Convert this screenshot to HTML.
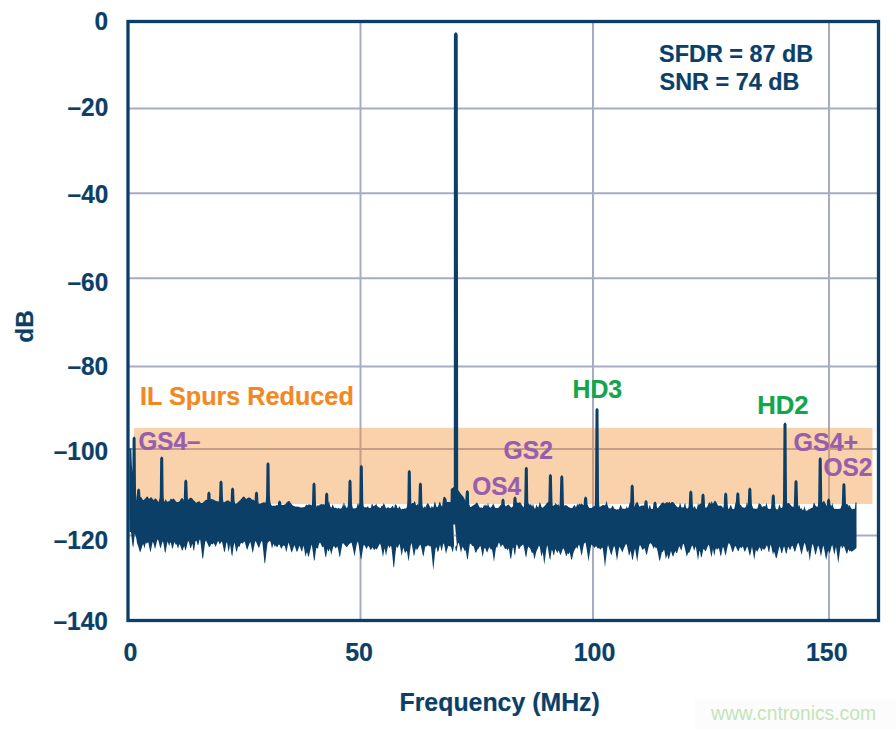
<!DOCTYPE html>
<html><head><meta charset="utf-8">
<style>
html,body{margin:0;padding:0;background:#fff;}
body{width:896px;height:729px;overflow:hidden;position:relative;}
svg{position:absolute;left:0;top:0;}
text{font-family:"Liberation Sans",sans-serif;font-weight:bold;stroke:currentColor;stroke-width:0.2px;}
text.wm{font-weight:normal;stroke:none;}
</style></head><body>
<svg width="896" height="729" viewBox="0 0 896 729">
<rect x="695" y="699" width="201" height="30" fill="#fcfcfc"/>
<g stroke="#a7abc3" stroke-width="2" fill="none">
<line x1="128" y1="108.5" x2="878" y2="108.5"/>
<line x1="128" y1="193.2" x2="878" y2="193.2"/>
<line x1="128" y1="278.2" x2="878" y2="278.2"/>
<line x1="128" y1="366.5" x2="878" y2="366.5"/>
<line x1="128" y1="449" x2="878" y2="449"/>
<line x1="128" y1="535.5" x2="878" y2="535.5"/>
<line x1="360.5" y1="21.5" x2="360.5" y2="620.5"/>
<line x1="593" y1="21.5" x2="593" y2="620.5"/>
<line x1="829" y1="21.5" x2="829" y2="620.5"/>
</g>
<rect x="134" y="427.8" width="738.5" height="76.2" fill="#f08c2a" fill-opacity="0.40"/>
<g fill="#0b3f68">
<path d="M129.50,448.6 130.25,504.2 131.00,503.5 131.75,502.8 132.50,503.4 133.25,502.9 134.00,502.7 134.75,502.3 135.50,502.5 136.25,501.4 137.00,500.5 137.75,499.3 138.50,498.1 139.25,496.7 140.00,496.9 140.75,496.8 141.50,497.5 142.25,498.8 143.00,500.0 143.75,500.0 144.50,499.3 145.25,498.4 146.00,497.4 146.75,496.8 147.50,496.5 148.25,497.5 149.00,499.0 149.75,498.3 150.50,497.5 151.25,497.3 152.00,497.8 152.75,498.9 153.50,500.3 154.25,499.3 155.00,498.6 155.75,498.6 156.50,499.2 157.25,500.2 158.00,501.4 158.75,501.8 159.50,498.9 160.25,497.7 161.00,499.2 161.75,501.0 162.50,501.0 163.25,501.3 164.00,501.6 164.75,501.5 165.50,499.0 166.25,500.2 167.00,501.6 167.75,501.8 168.50,501.2 169.25,501.3 170.00,500.0 170.75,498.4 171.50,498.9 172.25,499.6 173.00,498.7 173.75,498.6 174.50,499.4 175.25,500.6 176.00,501.5 176.75,502.1 177.50,502.0 178.25,502.0 179.00,501.8 179.75,500.9 180.50,499.6 181.25,498.4 182.00,497.9 182.75,498.5 183.50,499.8 184.25,501.3 185.00,502.4 185.75,502.4 186.50,501.7 187.25,500.9 188.00,500.0 188.75,499.0 189.50,498.2 190.25,497.8 191.00,497.7 191.75,498.1 192.50,498.8 193.25,499.7 194.00,500.7 194.75,501.1 195.50,502.3 196.25,502.8 197.00,502.2 197.75,501.7 198.50,501.5 199.25,501.3 200.00,501.8 200.75,502.9 201.50,503.1 202.25,503.0 203.00,502.5 203.75,501.7 204.50,500.9 205.25,500.2 206.00,499.8 206.75,499.9 207.50,500.3 208.25,500.6 209.00,500.2 209.75,499.7 210.50,499.3 211.25,499.1 212.00,499.2 212.75,499.3 213.50,499.6 214.25,500.0 215.00,500.4 215.75,500.8 216.50,501.1 217.25,501.3 218.00,501.4 218.75,501.7 219.50,501.9 220.25,501.6 221.00,502.2 221.75,502.3 222.50,502.4 223.25,502.4 224.00,502.3 224.75,502.1 225.50,501.6 226.25,501.1 227.00,500.6 227.75,500.4 228.50,500.6 229.25,501.1 230.00,501.8 230.75,502.5 231.50,502.2 232.25,501.9 233.00,501.7 233.75,502.9 234.50,504.0 235.25,503.9 236.00,503.6 236.75,503.2 237.50,502.7 238.25,501.8 239.00,501.3 239.75,500.5 240.50,499.8 241.25,499.1 242.00,497.9 242.75,497.0 243.50,496.6 244.25,496.8 245.00,497.5 245.75,498.5 246.50,499.1 247.25,498.3 248.00,497.7 248.75,497.4 249.50,497.4 250.25,497.8 251.00,498.5 251.75,499.4 252.50,499.7 253.25,499.5 254.00,500.3 254.75,500.8 255.50,501.8 256.25,503.3 257.00,503.3 257.75,503.7 258.50,503.5 259.25,503.7 260.00,503.6 260.75,503.4 261.50,503.1 262.25,502.7 263.00,502.5 263.75,502.3 264.50,502.4 265.25,502.4 266.00,503.1 266.75,503.6 267.50,504.1 268.25,504.7 269.00,503.6 269.75,503.5 270.50,503.6 271.25,505.0 272.00,505.7 272.75,505.8 273.50,505.7 274.25,505.8 275.00,505.8 275.75,505.4 276.50,505.1 277.25,505.0 278.00,505.8 278.75,504.9 279.50,505.1 280.25,504.9 281.00,505.2 281.75,505.1 282.50,505.0 283.25,504.9 284.00,504.7 284.75,504.4 285.50,503.9 286.25,503.1 287.00,502.2 287.75,501.4 288.50,501.0 289.25,501.1 290.00,501.8 290.75,502.9 291.50,503.9 292.25,504.9 293.00,505.4 293.75,505.9 294.50,506.2 295.25,506.4 296.00,506.7 296.75,506.4 297.50,506.8 298.25,506.5 299.00,506.9 299.75,507.2 300.50,507.3 301.25,507.4 302.00,507.4 302.75,507.2 303.50,507.3 304.25,507.1 305.00,506.7 305.75,505.3 306.50,504.4 307.25,505.3 308.00,504.8 308.75,504.5 309.50,504.4 310.25,504.6 311.00,505.0 311.75,505.5 312.50,506.1 313.25,506.6 314.00,504.4 314.75,506.2 315.50,507.5 316.25,507.4 317.00,506.2 317.75,504.7 318.50,505.8 319.25,505.3 320.00,504.2 320.75,504.5 321.50,504.1 322.25,504.2 323.00,504.5 323.75,504.0 324.50,504.7 325.25,503.9 326.00,504.9 326.75,505.4 327.50,505.9 328.25,502.7 329.00,501.1 329.75,504.4 330.50,507.0 331.25,507.7 332.00,506.3 332.75,504.2 333.50,506.2 334.25,507.8 335.00,507.9 335.75,507.6 336.50,507.9 337.25,508.7 338.00,508.0 338.75,508.1 339.50,508.5 340.25,508.6 341.00,508.7 341.75,507.8 342.50,506.1 343.25,502.2 344.00,506.8 344.75,502.8 345.50,506.0 346.25,507.8 347.00,507.7 347.75,507.7 348.50,506.3 349.25,505.5 350.00,502.3 350.75,505.8 351.50,507.6 352.25,508.7 353.00,508.5 353.75,508.3 354.50,508.5 355.25,508.3 356.00,508.1 356.75,507.6 357.50,504.0 358.25,502.9 359.00,506.0 359.75,503.7 360.50,503.7 361.25,503.6 362.00,504.2 362.75,505.8 363.50,507.0 364.25,506.8 365.00,507.8 365.75,507.1 366.50,507.4 367.25,506.8 368.00,506.0 368.75,507.9 369.50,508.0 370.25,507.9 371.00,507.5 371.75,503.8 372.50,504.2 373.25,506.3 374.00,505.8 374.75,505.5 375.50,504.9 376.25,503.5 377.00,505.9 377.75,506.4 378.50,507.0 379.25,507.6 380.00,508.0 380.75,507.8 381.50,506.1 382.25,506.2 383.00,504.9 383.75,503.1 384.50,504.6 385.25,506.5 386.00,508.3 386.75,508.2 387.50,507.4 388.25,507.3 389.00,507.8 389.75,508.3 390.50,507.9 391.25,507.6 392.00,506.3 392.75,505.8 393.50,507.5 394.25,508.1 395.00,503.9 395.75,504.8 396.50,505.0 397.25,507.5 398.00,508.6 398.75,507.5 399.50,506.1 400.25,507.8 401.00,509.0 401.75,509.6 402.50,508.6 403.25,509.0 404.00,508.7 404.75,508.4 405.50,508.6 406.25,508.3 407.00,508.0 407.75,507.5 408.50,506.9 409.25,506.2 410.00,505.3 410.75,504.5 411.50,503.7 412.25,503.1 413.00,502.9 413.75,503.0 414.50,501.1 415.25,502.2 416.00,505.0 416.75,505.3 417.50,503.6 418.25,505.8 419.00,505.1 419.75,504.9 420.50,505.5 421.25,506.6 422.00,507.7 422.75,508.7 423.50,507.8 424.25,505.9 425.00,507.7 425.75,506.8 426.50,505.0 427.25,503.5 428.00,503.2 428.75,504.2 429.50,505.9 430.25,507.4 431.00,508.3 431.75,505.8 432.50,507.0 433.25,507.7 434.00,504.8 434.75,501.3 435.50,503.3 436.25,506.0 437.00,507.6 437.75,506.8 438.50,505.3 439.25,502.6 440.00,501.4 440.75,503.9 441.50,506.1 442.25,506.8 443.00,506.6 443.75,506.4 444.50,506.0 445.25,505.5 446.00,503.7 446.75,503.0 447.50,504.0 448.25,503.7 449.00,503.7 449.75,504.1 450.50,504.6 451.25,505.0 452.00,503.8 452.75,503.1 453.50,503.2 454.25,504.0 455.00,505.2 455.75,506.5 456.50,507.6 457.25,508.3 458.00,508.6 458.75,508.7 459.50,508.6 460.25,508.4 461.00,507.8 461.75,506.6 462.50,504.7 463.25,502.8 464.00,501.9 464.75,502.6 465.50,504.4 466.25,506.1 467.00,507.1 467.75,507.3 468.50,505.8 469.25,504.7 470.00,507.0 470.75,507.0 471.50,506.6 472.25,506.0 473.00,505.4 473.75,504.9 474.50,504.5 475.25,504.3 476.00,503.0 476.75,502.4 477.50,502.9 478.25,504.4 479.00,506.2 479.75,507.6 480.50,507.8 481.25,506.9 482.00,508.1 482.75,508.0 483.50,505.7 484.25,504.7 485.00,506.6 485.75,504.1 486.50,505.5 487.25,506.0 488.00,502.6 488.75,505.8 489.50,507.1 490.25,507.8 491.00,507.3 491.75,506.5 492.50,504.9 493.25,503.4 494.00,505.3 494.75,507.0 495.50,508.0 496.25,508.1 497.00,508.1 497.75,508.0 498.50,507.6 499.25,506.8 500.00,505.8 500.75,505.0 501.50,504.6 502.25,505.0 503.00,506.1 503.75,505.5 504.50,504.4 505.25,505.5 506.00,506.4 506.75,505.5 507.50,504.9 508.25,504.6 509.00,504.8 509.75,506.1 510.50,506.9 511.25,507.5 512.00,507.4 512.75,506.5 513.50,505.0 514.25,504.1 515.00,503.4 515.75,502.7 516.50,502.3 517.25,502.5 518.00,503.0 518.75,502.8 519.50,502.3 520.25,502.6 521.00,503.6 521.75,504.9 522.50,506.1 523.25,507.1 524.00,507.7 524.75,507.9 525.50,507.5 526.25,506.5 527.00,505.2 527.75,503.4 528.50,503.5 529.25,504.1 530.00,505.5 530.75,503.4 531.50,505.3 532.25,506.6 533.00,503.6 533.75,506.4 534.50,508.6 535.25,508.6 536.00,506.3 536.75,504.2 537.50,507.1 538.25,507.6 539.00,505.1 539.75,502.0 540.50,503.4 541.25,506.1 542.00,507.7 542.75,507.5 543.50,507.0 544.25,506.3 545.00,505.4 545.75,504.4 546.50,503.4 547.25,502.6 548.00,502.2 548.75,502.2 549.50,502.6 550.25,503.5 551.00,504.5 551.75,505.6 552.50,506.4 553.25,505.8 554.00,505.2 554.75,504.7 555.50,502.7 556.25,504.3 557.00,504.6 557.75,505.0 558.50,504.0 559.25,506.2 560.00,506.8 560.75,506.9 561.50,504.0 562.25,503.0 563.00,506.0 563.75,506.2 564.50,505.6 565.25,505.3 566.00,505.2 566.75,505.6 567.50,506.1 568.25,506.7 569.00,507.2 569.75,507.6 570.50,507.9 571.25,508.1 572.00,508.2 572.75,507.6 573.50,506.1 574.25,505.2 575.00,505.2 575.75,507.5 576.50,506.3 577.25,503.2 578.00,505.7 578.75,504.0 579.50,503.6 580.25,504.8 581.00,503.7 581.75,503.5 582.50,504.2 583.25,504.9 584.00,504.9 584.75,505.4 585.50,506.1 586.25,503.6 587.00,504.9 587.75,505.0 588.50,506.7 589.25,508.1 590.00,508.1 590.75,508.0 591.50,508.1 592.25,507.6 593.00,507.0 593.75,506.3 594.50,506.0 595.25,506.0 596.00,506.5 596.75,507.0 597.50,507.5 598.25,507.5 599.00,507.3 599.75,507.0 600.50,506.5 601.25,505.9 602.00,505.4 602.75,505.0 603.50,505.0 604.25,505.2 605.00,505.5 605.75,503.8 606.50,500.7 607.25,503.7 608.00,506.6 608.75,508.3 609.50,508.2 610.25,508.6 611.00,508.2 611.75,507.0 612.50,505.4 613.25,506.6 614.00,508.1 614.75,508.9 615.50,509.1 616.25,509.7 617.00,509.3 617.75,509.3 618.50,509.5 619.25,508.4 620.00,506.3 620.75,504.5 621.50,506.8 622.25,508.6 623.00,509.1 623.75,508.4 624.50,508.8 625.25,508.9 626.00,508.2 626.75,505.9 627.50,508.3 628.25,507.9 629.00,505.6 629.75,502.7 630.50,502.5 631.25,500.8 632.00,502.7 632.75,503.0 633.50,505.5 634.25,507.2 635.00,505.1 635.75,502.9 636.50,502.6 637.25,501.8 638.00,502.9 638.75,505.0 639.50,506.7 640.25,506.2 641.00,505.7 641.75,505.4 642.50,505.5 643.25,506.1 644.00,504.5 644.75,507.6 645.50,508.2 646.25,508.6 647.00,508.7 647.75,509.0 648.50,509.0 649.25,506.2 650.00,504.5 650.75,507.9 651.50,508.9 652.25,509.1 653.00,509.5 653.75,508.7 654.50,508.4 655.25,506.9 656.00,506.8 656.75,508.1 657.50,508.2 658.25,507.7 659.00,506.4 659.75,505.8 660.50,504.7 661.25,503.6 662.00,502.7 662.75,502.4 663.50,502.6 664.25,503.3 665.00,503.4 665.75,502.7 666.50,502.3 667.25,502.2 668.00,502.4 668.75,502.7 669.50,501.4 670.25,503.5 671.00,502.6 671.75,502.0 672.50,501.9 673.25,502.3 674.00,503.0 674.75,504.0 675.50,505.1 676.25,506.0 677.00,506.7 677.75,507.2 678.50,507.5 679.25,506.0 680.00,502.8 680.75,504.8 681.50,507.4 682.25,507.5 683.00,507.3 683.75,507.4 684.50,503.9 685.25,503.1 686.00,507.2 686.75,508.4 687.50,508.5 688.25,508.0 689.00,509.2 689.75,509.4 690.50,509.3 691.25,509.5 692.00,509.6 692.75,508.9 693.50,507.9 694.25,506.3 695.00,506.6 695.75,508.4 696.50,509.5 697.25,507.3 698.00,503.0 698.75,505.5 699.50,503.9 700.25,503.3 701.00,504.0 701.75,505.4 702.50,506.9 703.25,507.8 704.00,508.2 704.75,508.2 705.50,507.8 706.25,507.6 707.00,506.9 707.75,505.5 708.50,503.6 709.25,502.3 710.00,502.5 710.75,504.0 711.50,501.0 712.25,502.4 713.00,503.8 713.75,502.3 714.50,501.1 715.25,500.8 716.00,501.6 716.75,503.3 717.50,504.4 718.25,505.8 719.00,505.7 719.75,505.6 720.50,505.5 721.25,505.7 722.00,506.4 722.75,507.4 723.50,508.3 724.25,504.6 725.00,505.3 725.75,509.8 726.50,508.5 727.25,508.7 728.00,510.0 728.75,509.3 729.50,507.7 730.25,505.7 731.00,505.0 731.75,507.3 732.50,508.9 733.25,508.9 734.00,509.2 734.75,506.7 735.50,501.5 736.25,507.1 737.00,507.9 737.75,507.1 738.50,504.9 739.25,503.0 740.00,505.4 740.75,504.2 741.50,506.2 742.25,507.1 743.00,507.5 743.75,507.6 744.50,507.8 745.25,507.6 746.00,506.5 746.75,502.3 747.50,503.8 748.25,507.8 749.00,508.4 749.75,507.0 750.50,504.5 751.25,506.0 752.00,505.2 752.75,507.3 753.50,508.7 754.25,508.3 755.00,509.0 755.75,508.6 756.50,508.7 757.25,508.7 758.00,506.6 758.75,503.2 759.50,503.4 760.25,504.0 761.00,504.4 761.75,506.5 762.50,507.1 763.25,506.4 764.00,506.0 764.75,506.3 765.50,506.4 766.25,502.8 767.00,504.8 767.75,508.2 768.50,508.7 769.25,509.1 770.00,509.0 770.75,509.0 771.50,509.5 772.25,508.1 773.00,505.3 773.75,503.5 774.50,506.6 775.25,509.1 776.00,509.5 776.75,509.3 777.50,509.6 778.25,508.4 779.00,505.2 779.75,504.6 780.50,507.4 781.25,507.9 782.00,508.0 782.75,507.6 783.50,507.1 784.25,506.6 785.00,504.5 785.75,501.8 786.50,503.5 787.25,503.5 788.00,502.9 788.75,502.9 789.50,503.5 790.25,504.4 791.00,505.4 791.75,506.2 792.50,506.8 793.25,507.1 794.00,507.6 794.75,507.9 795.50,508.7 796.25,508.2 797.00,507.6 797.75,506.4 798.50,506.7 799.25,504.6 800.00,507.2 800.75,509.2 801.50,507.9 802.25,509.6 803.00,510.3 803.75,508.9 804.50,506.1 805.25,508.9 806.00,511.0 806.75,510.5 807.50,510.4 808.25,509.6 809.00,509.3 809.75,509.2 810.50,508.6 811.25,508.1 812.00,508.1 812.75,507.6 813.50,503.5 814.25,502.7 815.00,504.4 815.75,506.0 816.50,506.5 817.25,506.9 818.00,506.7 818.75,506.6 819.50,506.2 820.25,505.6 821.00,504.6 821.75,502.7 822.50,502.2 823.25,501.4 824.00,500.7 824.75,502.1 825.50,503.4 826.25,505.0 827.00,506.4 827.75,506.1 828.50,505.1 829.25,504.4 830.00,504.3 830.75,505.1 831.50,506.2 832.25,502.6 833.00,506.2 833.75,508.0 834.50,508.9 835.25,509.0 836.00,508.6 836.75,509.0 837.50,509.0 838.25,509.1 839.00,508.7 839.75,508.7 840.50,508.4 841.25,506.5 842.00,505.1 842.75,504.6 843.50,506.9 844.25,508.6 845.00,507.1 845.75,504.4 846.50,503.7 847.25,504.7 848.00,503.9 848.75,506.8 849.50,504.7 850.25,506.3 851.00,508.1 851.75,508.9 852.50,509.3 853.25,508.9 854.00,508.6 854.75,509.2 855.50,502.5 856.25,502.5 856.50,502.5 856.50,547.0 856.25,548.2 855.50,548.8 854.75,549.4 854.00,550.0 853.25,550.6 852.50,551.2 851.75,551.8 851.00,551.2 850.25,550.4 849.50,551.8 848.75,549.2 848.00,550.6 847.25,553.5 846.50,553.4 845.75,551.2 845.00,548.9 844.25,546.7 843.50,545.9 842.75,547.8 842.00,548.4 841.25,545.6 840.50,547.0 839.75,552.2 839.00,558.0 838.25,563.4 837.50,557.5 836.75,551.9 836.00,546.8 835.25,550.6 834.50,554.7 833.75,552.1 833.00,548.2 832.25,544.9 831.50,546.5 830.75,549.4 830.00,552.6 829.25,553.1 828.50,550.4 827.75,552.1 827.00,555.9 826.25,559.9 825.50,556.8 824.75,552.3 824.00,548.3 823.25,545.5 822.50,548.8 821.75,552.6 821.00,556.7 820.25,553.2 819.50,549.8 818.75,546.7 818.00,545.6 817.25,548.4 816.50,551.6 815.75,555.0 815.00,553.5 814.25,549.8 813.50,546.5 812.75,543.8 812.00,545.6 811.25,550.3 810.50,555.6 809.75,561.0 809.00,555.2 808.25,549.7 807.50,552.4 806.75,551.3 806.00,547.6 805.25,544.5 804.50,542.8 803.75,545.5 803.00,548.5 802.25,551.7 801.50,555.0 800.75,551.7 800.00,548.5 799.25,545.6 798.50,543.0 797.75,543.6 797.00,545.5 796.25,548.0 795.50,550.8 794.75,552.1 794.00,549.8 793.25,547.7 792.50,545.7 791.75,546.1 791.00,548.0 790.25,550.0 789.50,549.5 788.75,546.9 788.00,547.2 787.25,550.4 786.50,553.9 785.75,552.9 785.00,549.6 784.25,546.5 783.50,547.4 782.75,550.4 782.00,553.6 781.25,552.8 780.50,549.3 779.75,546.2 779.00,548.3 778.25,551.3 777.50,554.5 776.75,557.8 776.00,558.5 775.25,555.4 774.50,552.4 773.75,552.0 773.00,555.1 772.25,551.2 771.50,547.7 770.75,544.6 770.00,547.2 769.25,551.9 768.50,551.7 767.75,547.7 767.00,545.3 766.25,546.6 765.50,547.9 764.75,549.1 764.00,550.3 763.25,548.9 762.50,548.2 761.75,551.0 761.00,550.8 760.25,547.9 759.50,547.2 758.75,548.8 758.00,550.3 757.25,551.9 756.50,550.4 755.75,550.3 755.00,554.9 754.25,560.0 753.50,555.4 752.75,550.7 752.00,546.9 751.25,550.3 750.50,553.9 749.75,555.8 749.00,552.8 748.25,549.8 747.50,546.8 746.75,547.6 746.00,549.3 745.25,551.2 744.50,551.8 743.75,549.2 743.00,546.9 742.25,546.4 741.50,548.5 740.75,547.5 740.00,547.2 739.25,549.2 738.50,551.2 737.75,550.7 737.00,549.0 736.25,547.4 735.50,546.1 734.75,546.7 734.00,549.1 733.25,551.6 732.50,552.2 731.75,549.8 731.00,547.4 730.25,545.1 729.50,543.8 728.75,543.0 728.00,545.1 727.25,548.1 726.50,551.6 725.75,555.7 725.00,553.8 724.25,550.5 723.50,547.6 722.75,547.3 722.00,551.1 721.25,555.0 720.50,556.3 719.75,552.3 719.00,548.4 718.25,548.3 717.50,549.3 716.75,549.4 716.00,548.1 715.25,550.5 714.50,555.8 713.75,553.6 713.00,548.9 712.25,553.0 711.50,557.4 710.75,554.0 710.00,549.7 709.25,546.1 708.50,544.8 707.75,546.5 707.00,548.3 706.25,550.1 705.50,551.5 704.75,550.4 704.00,549.1 703.25,549.6 702.50,553.2 701.75,557.1 701.00,557.4 700.25,552.4 699.50,550.4 698.75,555.2 698.00,560.6 697.25,555.5 696.50,550.8 695.75,546.6 695.00,547.9 694.25,551.0 693.50,548.8 692.75,546.2 692.00,545.6 691.25,547.5 690.50,549.6 689.75,551.7 689.00,553.2 688.25,552.3 687.50,554.8 686.75,556.8 686.00,553.3 685.25,549.9 684.50,546.7 683.75,543.9 683.00,544.2 682.25,547.1 681.50,550.6 680.75,549.6 680.00,547.4 679.25,546.3 678.50,548.6 677.75,550.9 677.00,553.1 676.25,553.1 675.50,551.0 674.75,552.3 674.00,554.3 673.25,556.5 672.50,556.0 671.75,553.5 671.00,551.1 670.25,553.6 669.50,556.6 668.75,559.6 668.00,557.6 667.25,554.3 666.50,557.1 665.75,559.0 665.00,554.2 664.25,549.9 663.50,550.2 662.75,552.3 662.00,551.8 661.25,555.1 660.50,558.3 659.75,561.3 659.00,558.9 658.25,554.8 657.50,551.0 656.75,547.5 656.00,548.8 655.25,547.3 654.50,546.6 653.75,549.0 653.00,547.2 652.25,545.5 651.50,544.0 650.75,543.2 650.00,543.5 649.25,544.6 648.50,547.4 647.75,550.7 647.00,554.3 646.25,554.8 645.50,551.6 644.75,548.5 644.00,548.4 643.25,549.3 642.50,550.0 641.75,548.4 641.00,546.8 640.25,545.3 639.50,545.7 638.75,550.3 638.00,555.7 637.25,561.7 636.50,557.4 635.75,552.7 635.00,548.4 634.25,551.4 633.50,555.8 632.75,560.3 632.00,558.9 631.25,553.9 630.50,550.7 629.75,554.3 629.00,556.0 628.25,551.8 627.50,548.1 626.75,544.7 626.00,544.0 625.25,545.4 624.50,547.1 623.75,548.8 623.00,550.8 622.25,552.4 621.50,550.5 620.75,548.9 620.00,547.5 619.25,546.9 618.50,551.3 617.75,555.9 617.00,560.7 616.25,555.9 615.50,551.2 614.75,546.9 614.00,546.3 613.25,548.6 612.50,551.3 611.75,554.4 611.00,554.9 610.25,552.1 609.50,549.6 608.75,547.2 608.00,545.0 607.25,548.6 606.50,554.4 605.75,560.7 605.00,567.4 604.25,560.4 603.50,553.9 602.75,548.2 602.00,547.5 601.25,548.6 600.50,549.7 599.75,549.0 599.00,547.8 598.25,548.5 597.50,548.6 596.75,546.9 596.00,545.9 595.25,547.1 594.50,548.1 593.75,547.0 593.00,546.1 592.25,545.3 591.50,544.6 590.75,547.3 590.00,551.8 589.25,556.6 588.50,561.6 587.75,556.1 587.00,551.0 586.25,546.4 585.50,542.6 584.75,542.9 584.00,543.8 583.25,547.4 582.50,551.6 581.75,556.1 581.00,553.4 580.25,549.2 579.50,545.4 578.75,544.8 578.00,546.9 577.25,549.3 576.50,547.1 575.75,547.9 575.00,549.3 574.25,550.8 573.50,552.7 572.75,556.0 572.00,559.3 571.25,559.8 570.50,555.9 569.75,552.3 569.00,553.4 568.25,554.2 567.50,553.1 566.75,556.1 566.00,555.7 565.25,553.2 564.50,550.8 563.75,548.7 563.00,548.6 562.25,550.6 561.50,552.7 560.75,554.9 560.00,554.6 559.25,552.1 558.50,550.2 557.75,552.7 557.00,552.6 556.25,550.7 555.50,548.9 554.75,551.7 554.00,555.4 553.25,554.6 552.50,550.8 551.75,550.0 551.00,554.8 550.25,560.1 549.50,558.5 548.75,553.5 548.00,549.0 547.25,545.1 546.50,548.6 545.75,553.8 545.00,559.5 544.25,564.7 543.50,558.0 542.75,551.8 542.00,555.6 541.25,556.0 540.50,551.1 539.75,546.8 539.00,545.6 538.25,547.5 537.50,549.3 536.75,550.5 536.00,553.1 535.25,556.3 534.50,559.5 533.75,556.0 533.00,552.2 532.25,553.2 531.50,552.3 530.75,550.1 530.00,548.1 529.25,547.8 528.50,546.5 527.75,548.3 527.00,552.6 526.25,557.4 525.50,555.9 524.75,551.5 524.00,547.7 523.25,544.5 522.50,545.1 521.75,545.7 521.00,546.0 520.25,547.3 519.50,548.7 518.75,549.3 518.00,547.0 517.25,544.9 516.50,544.6 515.75,549.7 515.00,555.8 514.25,553.2 513.50,547.7 512.75,547.8 512.00,552.8 511.25,558.1 510.50,559.3 509.75,554.3 509.00,549.5 508.25,548.2 507.50,550.8 506.75,548.7 506.00,548.5 505.25,549.5 504.50,548.0 503.75,546.5 503.00,545.0 502.25,544.5 501.50,546.1 500.75,547.2 500.00,544.8 499.25,542.8 498.50,543.3 497.75,545.7 497.00,548.2 496.25,546.6 495.50,551.1 494.75,556.6 494.00,562.1 493.25,557.0 492.50,552.0 491.75,548.8 491.00,549.7 490.25,548.8 489.50,547.0 488.75,548.4 488.00,550.3 487.25,552.4 486.50,551.6 485.75,549.6 485.00,547.7 484.25,548.6 483.50,552.8 482.75,557.2 482.00,553.5 481.25,549.6 480.50,546.1 479.75,546.5 479.00,547.8 478.25,548.9 477.50,549.5 476.75,551.3 476.00,552.9 475.25,552.1 474.50,549.4 473.75,546.8 473.00,546.1 472.25,546.0 471.50,544.8 470.75,543.9 470.00,543.4 469.25,548.1 468.50,553.7 467.75,559.8 467.00,558.4 466.25,553.3 465.50,550.0 464.75,551.3 464.00,549.6 463.25,547.9 462.50,546.4 461.75,549.4 461.00,552.9 460.25,549.2 459.50,545.7 458.75,542.7 458.00,543.8 457.25,547.4 456.50,551.6 455.75,550.4 455.00,546.1 454.25,544.2 453.50,548.2 452.75,552.8 452.00,550.3 451.25,547.2 450.50,546.3 449.75,546.5 449.00,546.1 448.25,546.1 447.50,548.5 446.75,551.1 446.00,553.9 445.25,549.9 444.50,546.3 443.75,543.3 443.00,544.7 442.25,548.7 441.50,551.2 440.75,547.4 440.00,544.7 439.25,547.7 438.50,550.9 437.75,552.2 437.00,549.3 436.25,546.7 435.50,548.7 434.75,555.7 434.00,563.3 433.25,570.2 432.50,562.2 431.75,554.5 431.00,547.4 430.25,545.8 429.50,546.4 428.75,545.7 428.00,544.8 427.25,546.0 426.50,546.6 425.75,545.9 425.00,547.8 424.25,552.1 423.50,556.6 422.75,554.9 422.00,551.1 421.25,547.4 420.50,544.8 419.75,545.2 419.00,546.5 418.25,548.0 417.50,549.6 416.75,549.9 416.00,547.9 415.25,550.5 414.50,554.7 413.75,556.0 413.00,551.1 412.25,546.7 411.50,542.9 410.75,545.5 410.00,550.8 409.25,556.8 408.50,561.6 407.75,556.4 407.00,551.4 406.25,551.1 405.50,553.1 404.75,552.3 404.00,549.9 403.25,547.6 402.50,551.6 401.75,556.2 401.00,552.2 400.25,547.5 399.50,543.7 398.75,545.6 398.00,547.6 397.25,547.8 396.50,546.3 395.75,550.9 395.00,558.1 394.25,566.0 393.50,567.7 392.75,559.8 392.00,552.5 391.25,546.2 390.50,546.1 389.75,547.9 389.00,547.2 388.25,545.3 387.50,548.4 386.75,552.1 386.00,556.1 385.25,551.5 384.50,548.2 383.75,552.5 383.00,557.3 382.25,552.9 381.50,549.0 380.75,545.5 380.00,543.4 379.25,544.8 378.50,546.2 377.75,547.6 377.00,549.0 376.25,549.4 375.50,548.2 374.75,549.7 374.00,550.1 373.25,548.6 372.50,547.2 371.75,548.6 371.00,550.2 370.25,549.2 369.50,547.7 368.75,546.2 368.00,546.0 367.25,547.8 366.50,549.3 365.75,547.6 365.00,546.2 364.25,544.9 363.50,545.6 362.75,549.9 362.00,554.7 361.25,559.7 360.50,557.7 359.75,552.3 359.00,547.2 358.25,543.0 357.50,541.4 356.75,544.6 356.00,548.2 355.25,552.2 354.50,556.5 353.75,552.6 353.00,548.9 352.25,545.4 351.50,542.5 350.75,542.9 350.00,543.4 349.25,544.1 348.50,544.9 347.75,546.0 347.00,547.2 346.25,546.7 345.50,545.9 344.75,545.1 344.00,544.2 343.25,543.3 342.50,543.4 341.75,547.0 341.00,551.3 340.25,556.1 339.50,557.2 338.75,552.6 338.00,548.5 337.25,546.3 336.50,547.4 335.75,548.4 335.00,547.6 334.25,546.5 333.50,546.2 332.75,548.8 332.00,551.7 331.25,554.9 330.50,551.6 329.75,548.6 329.00,551.0 328.25,551.4 327.50,548.8 326.75,552.9 326.00,557.4 325.25,556.3 324.50,551.5 323.75,547.1 323.00,546.4 322.25,547.4 321.50,545.5 320.75,543.7 320.00,542.4 319.25,543.4 318.50,546.1 317.75,549.1 317.00,548.1 316.25,548.0 315.50,553.5 314.75,559.7 314.00,561.0 313.25,554.9 312.50,549.4 311.75,544.6 311.00,547.1 310.25,550.3 309.50,553.5 308.75,556.7 308.00,556.0 307.25,552.4 306.50,552.7 305.75,557.1 305.00,553.9 304.25,549.2 303.50,545.7 302.75,548.6 302.00,551.8 301.25,550.7 300.50,548.2 299.75,545.7 299.00,547.0 298.25,549.1 297.50,551.3 296.75,552.1 296.00,549.7 295.25,547.4 294.50,545.3 293.75,547.1 293.00,549.2 292.25,551.3 291.50,552.8 290.75,550.0 290.00,547.3 289.25,544.7 288.50,542.4 287.75,545.7 287.00,549.5 286.25,552.2 285.50,548.8 284.75,545.8 284.00,545.9 283.25,545.3 282.50,546.8 281.75,548.3 281.00,548.4 280.25,546.5 279.50,544.7 278.75,544.5 278.00,545.8 277.25,547.3 276.50,546.8 275.75,545.2 275.00,547.1 274.25,545.5 273.50,543.8 272.75,546.0 272.00,548.7 271.25,544.9 270.50,541.8 269.75,540.9 269.00,541.6 268.25,542.3 267.50,543.2 266.75,549.1 266.00,555.6 265.25,562.6 264.50,563.6 263.75,555.7 263.00,548.3 262.25,541.7 261.50,541.1 260.75,542.8 260.00,545.0 259.25,547.5 258.50,547.7 257.75,545.7 257.00,543.9 256.25,542.3 255.50,540.7 254.75,543.6 254.00,547.2 253.25,551.1 252.50,552.9 251.75,548.8 251.00,545.1 250.25,541.7 249.50,543.5 248.75,545.6 248.00,547.7 247.25,549.9 246.50,548.2 245.75,545.4 245.00,542.8 244.25,541.3 243.50,542.4 242.75,543.7 242.00,543.2 241.25,542.8 240.50,543.8 239.75,546.3 239.00,547.3 238.25,545.8 237.50,548.8 236.75,551.9 236.00,550.4 235.25,546.4 234.50,542.6 233.75,545.5 233.00,550.7 232.25,556.4 231.50,554.4 230.75,548.7 230.00,544.2 229.25,549.3 228.50,552.0 227.75,546.7 227.00,542.1 226.25,543.8 225.50,547.9 224.75,552.4 224.00,551.1 223.25,547.4 222.50,544.0 221.75,541.4 221.00,542.2 220.25,543.7 219.50,544.4 218.75,541.8 218.00,541.3 217.25,542.8 216.50,544.7 215.75,546.9 215.00,545.5 214.25,544.1 213.50,542.9 212.75,544.6 212.00,544.1 211.25,543.9 210.50,545.6 209.75,547.3 209.00,547.1 208.25,545.3 207.50,543.6 206.75,541.9 206.00,540.5 205.25,541.9 204.50,547.1 203.75,552.9 203.00,559.2 202.25,557.4 201.50,550.5 200.75,544.1 200.00,538.9 199.25,541.1 198.50,544.7 197.75,545.1 197.00,542.5 196.25,540.4 195.50,541.2 194.75,546.0 194.00,551.3 193.25,549.3 192.50,543.7 191.75,545.3 191.00,548.1 190.25,548.0 189.50,544.5 188.75,541.5 188.00,541.2 187.25,544.2 186.50,547.3 185.75,550.7 185.00,549.0 184.25,546.1 183.50,547.7 182.75,550.3 182.00,550.4 181.25,548.2 180.50,546.2 179.75,544.3 179.00,545.0 178.25,548.3 177.50,547.5 176.75,544.1 176.00,544.9 175.25,543.8 174.50,541.9 173.75,544.5 173.00,547.8 172.25,549.0 171.50,545.6 170.75,542.6 170.00,542.8 169.25,546.3 168.50,544.3 167.75,541.6 167.00,544.1 166.25,548.4 165.50,553.1 164.75,551.8 164.00,546.8 163.25,542.4 162.50,541.5 161.75,544.2 161.00,547.2 160.25,548.2 159.50,545.1 158.75,542.1 158.00,539.5 157.25,540.0 156.50,542.9 155.75,546.4 155.00,549.2 154.25,546.0 153.50,543.2 152.75,541.8 152.00,545.2 151.25,548.8 150.50,552.4 149.75,549.6 149.00,545.8 148.25,542.2 147.50,542.8 146.75,543.7 146.00,542.6 145.25,544.8 144.50,548.7 143.75,545.5 143.00,544.0 142.25,546.3 141.50,548.6 140.75,551.0 140.00,552.6 139.25,549.9 138.50,547.3 137.75,545.0 137.00,542.9 136.25,538.0 135.50,535.7 134.75,533.5 134.00,541.5 133.25,547.5 132.50,545.5 131.75,539.5 131.00,532.0 130.25,532.0 129.50,532.0Z"/>
<path d="M129.2,506.0 Q132.2,504.0 132.2,494.0 L132.6,438.2 Q134.1,434.7 135.6,438.2 L136.0,494.0 Q136.0,504.0 139.0,506.0Z"/>
<path d="M133.7,506.0 Q136.7,504.0 136.7,499.7 L137.1,490.2 Q138.6,486.7 140.1,490.2 L140.5,499.7 Q140.5,504.0 143.5,506.0Z"/>
<path d="M156.8,506.0 Q159.8,504.0 159.8,494.0 L160.2,458.2 Q161.7,454.7 163.2,458.2 L163.6,494.0 Q163.6,504.0 166.6,506.0Z"/>
<path d="M180.9,506.0 Q183.9,504.0 183.9,496.6 L184.3,481.2 Q185.8,477.7 187.3,481.2 L187.8,496.6 Q187.8,504.0 190.8,506.0Z"/>
<path d="M204.0,506.0 Q207.0,504.0 207.0,500.8 L207.4,493.2 Q208.9,489.7 210.4,493.2 L210.8,500.8 Q210.8,504.0 213.8,506.0Z"/>
<path d="M216.1,506.0 Q219.1,504.0 219.1,496.9 L219.5,482.2 Q221.0,478.7 222.5,482.2 L222.9,496.9 Q222.9,504.0 225.9,506.0Z"/>
<path d="M227.7,506.0 Q230.7,504.0 230.7,499.4 L231.1,489.2 Q232.6,485.7 234.1,489.2 L234.5,499.4 Q234.5,504.0 237.5,506.0Z"/>
<path d="M251.6,507.0 Q254.6,505.0 254.6,501.4 L255.0,493.2 Q256.5,489.7 258.0,493.2 L258.4,501.4 Q258.4,505.0 261.4,507.0Z"/>
<path d="M263.1,507.8 Q266.1,505.8 266.1,495.8 L266.5,463.9 Q268.0,460.4 269.5,463.9 L269.9,495.8 Q269.9,505.8 272.9,507.8Z"/>
<path d="M274.7,508.5 Q277.7,506.5 277.7,505.5 L278.1,502.2 Q279.6,498.7 281.1,502.2 L281.6,505.5 Q281.6,506.5 284.6,508.5Z"/>
<path d="M309.1,510.6 Q312.1,508.6 312.1,500.6 L312.5,484.2 Q314.0,480.7 315.5,484.2 L315.9,500.6 Q315.9,508.6 318.9,510.6Z"/>
<path d="M321.8,511.5 Q324.8,509.5 324.8,504.7 L325.2,494.2 Q326.7,490.7 328.2,494.2 L328.6,504.7 Q328.6,509.5 331.6,511.5Z"/>
<path d="M345.1,511.5 Q348.1,509.5 348.1,500.1 L348.5,481.2 Q350.0,477.7 351.5,481.2 L351.9,500.1 Q351.9,509.5 354.9,511.5Z"/>
<path d="M356.4,511.5 Q359.4,509.5 359.4,499.5 L359.8,466.7 Q361.3,463.2 362.8,466.7 L363.2,499.5 Q363.2,509.5 366.2,511.5Z"/>
<path d="M404.4,511.5 Q407.4,509.5 407.4,499.5 L407.8,471.8 Q409.3,468.3 410.8,471.8 L411.2,499.5 Q411.2,509.5 414.2,511.5Z"/>
<path d="M415.4,511.5 Q418.4,509.5 418.4,501.2 L418.9,484.2 Q420.4,480.7 421.9,484.2 L422.3,501.2 Q422.3,509.5 425.3,511.5Z"/>
<path d="M440.1,511.5 Q443.1,509.5 443.1,506.4 L443.5,499.2 Q445.0,495.7 446.5,499.2 L446.9,506.4 Q446.9,509.5 449.9,511.5Z"/>
<path d="M462.4,511.5 Q465.4,509.5 465.4,504.0 L465.8,492.2 Q467.3,488.7 468.8,492.2 L469.2,504.0 Q469.2,509.5 472.2,511.5Z"/>
<path d="M498.1,511.5 Q501.1,509.5 501.1,506.8 L501.5,500.2 Q503.0,496.7 504.5,500.2 L504.9,506.8 Q504.9,509.5 507.9,511.5Z"/>
<path d="M510.0,511.5 Q513.0,509.5 513.0,506.1 L513.5,498.2 Q515.0,494.7 516.5,498.2 L517.0,506.1 Q517.0,509.5 520.0,511.5Z"/>
<path d="M521.3,511.5 Q524.3,509.5 524.3,499.5 L524.8,468.6 Q526.3,465.1 527.8,468.6 L528.2,499.5 Q528.2,509.5 531.2,511.5Z"/>
<path d="M545.4,511.5 Q548.4,509.5 548.4,499.5 L548.9,475.7 Q550.4,472.2 551.9,475.7 L552.4,499.5 Q552.4,509.5 555.4,511.5Z"/>
<path d="M556.8,511.5 Q559.8,509.5 559.8,499.5 L560.3,477.1 Q561.8,473.6 563.3,477.1 L563.8,499.5 Q563.8,509.5 566.8,511.5Z"/>
<path d="M580.6,511.5 Q583.6,509.5 583.6,506.1 L584.1,498.2 Q585.6,494.7 587.1,498.2 L587.6,506.1 Q587.6,509.5 590.6,511.5Z"/>
<path d="M592.0,511.5 Q595.0,509.5 595.0,499.5 L595.5,409.7 Q597.0,406.2 598.5,409.7 L599.0,499.5 Q599.0,509.5 602.0,511.5Z"/>
<path d="M627.2,511.5 Q630.2,509.5 630.2,501.9 L630.7,486.3 Q632.2,482.8 633.7,486.3 L634.2,501.9 Q634.2,509.5 637.2,511.5Z"/>
<path d="M641.0,511.5 Q644.0,509.5 644.0,507.3 L644.5,501.7 Q646.0,498.2 647.5,501.7 L648.0,507.3 Q648.0,509.5 651.0,511.5Z"/>
<path d="M650.0,511.5 Q653.0,509.5 653.0,507.8 L653.5,503.2 Q655.0,499.7 656.5,503.2 L657.0,507.8 Q657.0,509.5 660.0,511.5Z"/>
<path d="M685.8,511.5 Q688.8,509.5 688.8,504.0 L689.3,492.2 Q690.8,488.7 692.3,492.2 L692.8,504.0 Q692.8,509.5 695.8,511.5Z"/>
<path d="M698.0,511.5 Q701.0,509.5 701.0,505.0 L701.5,495.2 Q703.0,491.7 704.5,495.2 L705.0,505.0 Q705.0,509.5 708.0,511.5Z"/>
<path d="M720.8,511.5 Q723.8,509.5 723.8,504.7 L724.2,494.2 Q725.7,490.7 727.2,494.2 L727.7,504.7 Q727.7,509.5 730.7,511.5Z"/>
<path d="M732.8,511.5 Q735.8,509.5 735.8,504.6 L736.3,494.0 Q737.8,490.5 739.3,494.0 L739.8,504.6 Q739.8,509.5 742.8,511.5Z"/>
<path d="M744.8,511.5 Q747.8,509.5 747.8,502.9 L748.3,489.2 Q749.8,485.7 751.3,489.2 L751.8,502.9 Q751.8,509.5 754.8,511.5Z"/>
<path d="M768.3,511.5 Q771.3,509.5 771.3,505.3 L771.8,496.0 Q773.3,492.5 774.8,496.0 L775.2,505.3 Q775.2,509.5 778.2,511.5Z"/>
<path d="M780.0,511.5 Q783.0,509.5 783.0,499.5 L783.5,424.2 Q785.0,420.7 786.5,424.2 L787.0,499.5 Q787.0,509.5 790.0,511.5Z"/>
<path d="M791.0,511.5 Q794.0,509.5 794.0,500.3 L794.5,481.7 Q796.0,478.2 797.5,481.7 L798.0,500.3 Q798.0,509.5 801.0,511.5Z"/>
<path d="M815.2,511.5 Q818.2,509.5 818.2,499.5 L818.7,458.9 Q820.2,455.4 821.7,458.9 L822.2,499.5 Q822.2,509.5 825.2,511.5Z"/>
<path d="M823.6,511.5 Q826.6,509.5 826.6,506.8 L827.1,500.2 Q828.6,496.7 830.1,500.2 L830.6,506.8 Q830.6,509.5 833.6,511.5Z"/>
<path d="M838.9,511.5 Q841.9,509.5 841.9,501.4 L842.4,484.7 Q843.9,481.2 845.4,484.7 L845.9,501.4 Q845.9,509.5 848.9,511.5Z"/>
<path d="M442,515 L442,507 L443.2,498 Q444.3,495.5 445.5,498 L446.5,502 L450.5,502 L450.8,489 L453.8,487 L453.9,34.5 Q455.8,30 457.7,34.5 L458.2,490 L461,494 L463.5,497 L465.5,501 L466.2,491.5 Q467.4,489 468.6,491.5 L469.5,515 L442,515 Z"/>
<path d="M129.5,520 L129.5,448.3 L131.3,448.3 L131.9,466 L132.5,470 L135.5,488 L137,503 L137,520Z"/>
</g>
<path d="M453.4,524.5 L455,524.5 L456.8,545 L454.2,548Z" fill="#fff"/>
<line x1="453.8" y1="535.5" x2="456.2" y2="535.5" stroke="#a7abc3" stroke-width="2"/>
<rect x="128" y="21.5" width="750.5" height="599" fill="none" stroke="#0b3f68" stroke-width="3.3"/>
<text transform="translate(94.50,30.25) scale(0.9550,1)" font-size="25.60" fill="#0b3f68" style="color:#0b3f68">0</text>
<text transform="translate(67.50,116.00) scale(0.9550,1)" font-size="25.60" fill="#0b3f68" style="color:#0b3f68">–20</text>
<text transform="translate(67.55,202.85) scale(0.9550,1)" font-size="25.60" fill="#0b3f68" style="color:#0b3f68">–40</text>
<text transform="translate(67.50,290.62) scale(0.9550,1)" font-size="25.60" fill="#0b3f68" style="color:#0b3f68">–60</text>
<text transform="translate(67.40,375.02) scale(0.9550,1)" font-size="25.60" fill="#0b3f68" style="color:#0b3f68">–80</text>
<text transform="translate(53.75,460.15) scale(0.9550,1)" font-size="25.60" fill="#0b3f68" style="color:#0b3f68">–100</text>
<text transform="translate(53.75,549.00) scale(0.9550,1)" font-size="25.60" fill="#0b3f68" style="color:#0b3f68">–120</text>
<text transform="translate(53.50,630.00) scale(0.9550,1)" font-size="25.60" fill="#0b3f68" style="color:#0b3f68">–140</text>
<text transform="translate(123.40,660.60) scale(0.9750,1)" font-size="25.60" fill="#0b3f68" style="color:#0b3f68">0</text>
<text transform="translate(345.25,660.60) scale(0.9750,1)" font-size="25.60" fill="#0b3f68" style="color:#0b3f68">50</text>
<text transform="translate(573.70,660.55) scale(0.9750,1)" font-size="25.60" fill="#0b3f68" style="color:#0b3f68">100</text>
<text transform="translate(806.00,661.05) scale(0.9750,1)" font-size="25.60" fill="#0b3f68" style="color:#0b3f68">150</text>
<text transform="translate(399.50,710.65) scale(0.9830,1)" font-size="25.30" fill="#0b3f68" style="color:#0b3f68">Frequency (MHz)</text>
<text transform="translate(659.10,61.60) scale(1.0000,1)" font-size="23.40" fill="#0b3f68" style="color:#0b3f68">SFDR = 87 dB</text>
<text transform="translate(659.60,89.80) scale(1.0000,1)" font-size="23.40" fill="#0b3f68" style="color:#0b3f68">SNR = 74 dB</text>
<text transform="translate(140.00,404.75) scale(0.9768,1)" font-size="25.80" fill="#f2891f" style="color:#f2891f">IL Spurs Reduced</text>
<text transform="translate(138.55,450.30) scale(0.9681,1)" font-size="25.00" fill="#965eac" style="color:#965eac">GS4–</text>
<text transform="translate(503.60,459.05) scale(0.9847,1)" font-size="25.00" fill="#965eac" style="color:#965eac">GS2</text>
<text transform="translate(472.20,494.50) scale(0.9765,1)" font-size="25.00" fill="#965eac" style="color:#965eac">OS4</text>
<text transform="translate(793.50,450.85) scale(1.0019,1)" font-size="25.00" fill="#965eac" style="color:#965eac">GS4+</text>
<text transform="translate(823.50,476.40) scale(0.9769,1)" font-size="25.00" fill="#965eac" style="color:#965eac">OS2</text>
<text transform="translate(572.50,398.25) scale(0.9936,1)" font-size="25.00" fill="#13a54c" style="color:#13a54c">HD3</text>
<text transform="translate(757.15,413.60) scale(1.0289,1)" font-size="25.00" fill="#13a54c" style="color:#13a54c">HD2</text>
<text transform="translate(33,326.5) rotate(-90)" fill="#0b3f68" style="color:#0b3f68" font-size="24.5" text-anchor="middle">dB</text>
<text class="wm" x="711" y="720" fill="#c3e4b8" font-size="19.3">www.cntronics.com</text>
</svg>
</body></html>
